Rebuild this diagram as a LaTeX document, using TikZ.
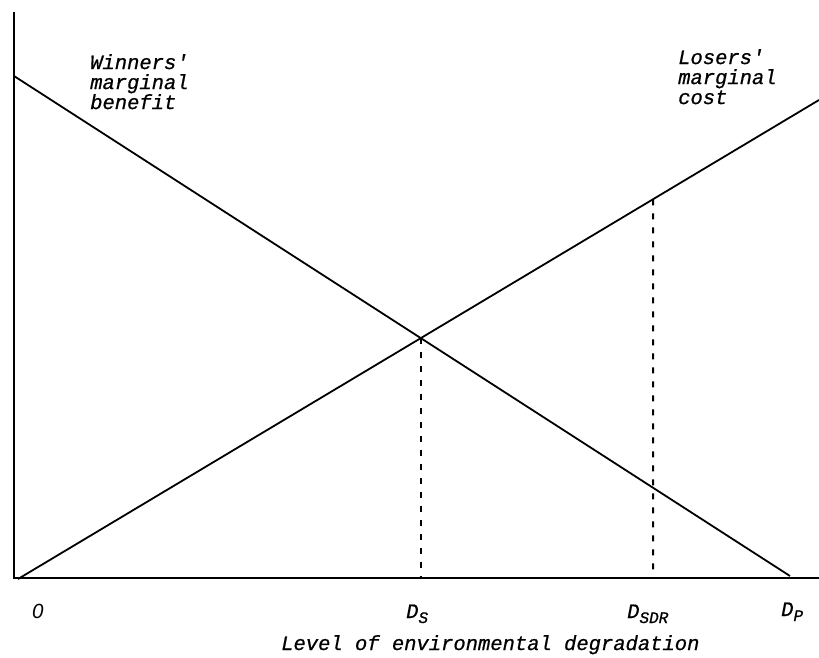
\documentclass[tikz,border=0pt]{standalone}
\usepackage{fontspec}
\newfontfamily\labfont{Liberation Mono}[ItalicFeatures={FakeBold=0.7}]
\newfontfamily\zerofont{Liberation Sans}
\begin{document}
\begin{tikzpicture}[x=1pt,y=-1pt,
  axis/.style={line width=1.4pt},
  curve/.style={line width=1.8pt},
  guide/.style={line width=2pt, dash pattern=on 6pt off 8pt},
  lbl/.style={inner sep=0pt, font=\labfont\fontsize{20.5}{20}\selectfont\itshape}]
\useasboundingbox (0,0) rectangle (819,658);
% axes
\coordinate (top) at (14,12);
\coordinate (orig) at (14,578);
\coordinate (xend) at (819,578);
\draw[axis] (top) -- (orig) -- (xend);
% curves
\coordinate (wa) at (14,76);
\coordinate (wb) at (790,576);
\coordinate (la) at (18,579);
\coordinate (lb) at (819,100);
\draw[curve] (wa) -- (wb);
\draw[curve] (la) -- (lb);
\coordinate (eq) at (intersection of wa--wb and la--lb);
\coordinate (eqb) at (eq |- orig);
\coordinate (sdrb) at (653,578);
\coordinate (sdrt) at (intersection of la--lb and sdrb--{653,0});
\draw[guide] (eq) -- (eqb);
\draw[guide] (sdrt) -- (sdrb);
% labels
\node[lbl, anchor=north west, align=left] (win) at (90,54) {Winners\textquotesingle\\marginal\\benefit};
\node[lbl, anchor=north west, align=left] (los) at (678,49) {Losers\textquotesingle\\marginal\\cost};
\node[lbl, anchor=base west] (zero) at (32,618) {\zerofont\itshape 0};
\node[lbl, anchor=base west] (ds) at (406,618) {D\raisebox{-5pt}{\fontsize{16}{16}\selectfont S}};
\node[lbl, anchor=base west] (dsdr) at (627,618) {D\raisebox{-5pt}{\fontsize{16}{16}\selectfont SDR}};
\node[lbl, anchor=base west] (dp) at (781,616) {D\raisebox{-5pt}{\fontsize{16}{16}\selectfont P}};
\node[lbl, anchor=base west] (xlab) at (281,650) {Level of environmental degradation};
\end{tikzpicture}
\end{document}
